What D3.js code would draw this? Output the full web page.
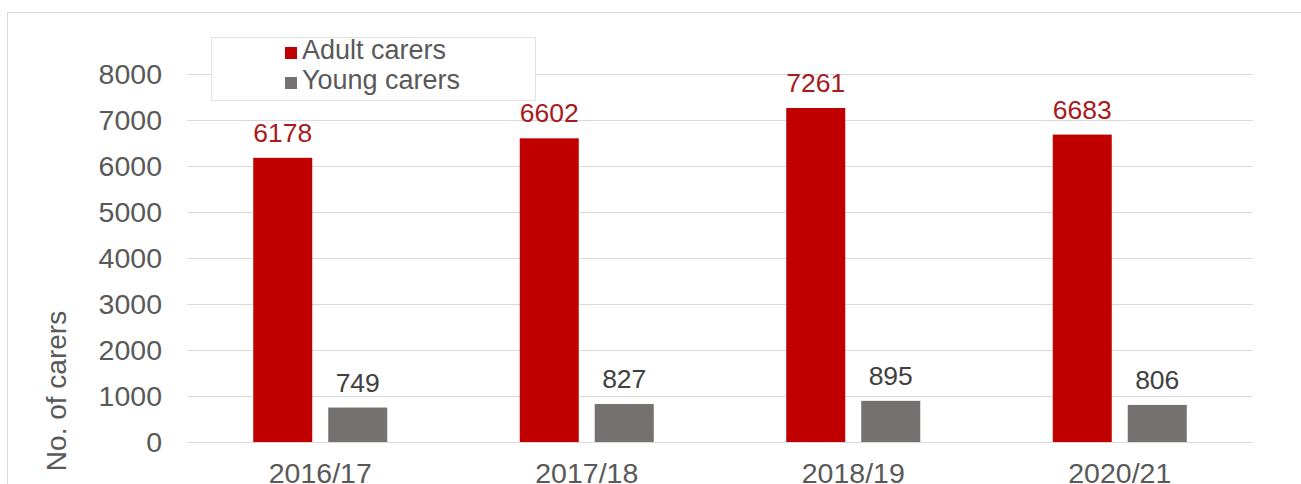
<!DOCTYPE html>
<html>
<head>
<meta charset="utf-8">
<script src="https://cdn.jsdelivr.net/npm/d3@7/dist/d3.min.js"></script>
<style>
  html, body { margin: 0; padding: 0; background: #fff; }
  svg { display: block; font-family: "Liberation Sans", Arial, sans-serif; }
</style>
</head>
<body>
<svg id="chart" width="1301" height="484"></svg>
<script>
// Carers supported per year
const years = ["2016/17", "2017/18", "2018/19", "2020/21"];
const seriesNames = ["Adult carers", "Young carers"];
const adultCarers = [6178, 6602, 7261, 6683];
const youngCarers = [749, 827, 895, 806];
const yTicks = [0, 1000, 2000, 3000, 4000, 5000, 6000, 7000, 8000];

const colors = { "Adult carers": "#c00000", "Young carers": "#767171" };
const labelColors = { "Adult carers": "#a8191c", "Young carers": "#404040" };

const svg = d3.select("#chart");

// outer chart frame
svg.append("rect")
  .attr("x", 7.5).attr("y", 12.5)
  .attr("width", 1320).attr("height", 500)
  .attr("fill", "#fff").attr("stroke", "#d9d9d9").attr("stroke-width", 1);

const plot = { left: 187, right: 1253, top: 74, bottom: 442 };

const y = d3.scaleLinear().domain([0, 8000]).range([plot.bottom, plot.top]);
const x0 = d3.scaleBand().domain(years).range([plot.left, plot.right]).padding(0);
const x1 = d3.scaleBand().domain(seriesNames).range([0, 134]).paddingInner(0.2133).paddingOuter(0);

// gridlines + y tick labels
const yAxis = d3.axisLeft(y).tickValues(yTicks).tickSize(-(plot.right - plot.left)).tickPadding(25)
  .tickFormat(d3.format("d"));
const gy = svg.append("g").attr("transform", `translate(${plot.left},0)`).call(yAxis);
gy.select(".domain").remove();
gy.selectAll(".tick line").attr("stroke", "#d9d9d9").attr("stroke-width", 1);
gy.selectAll(".tick text").attr("fill", "#595959").attr("font-size", 28.5)
  .attr("font-family", "'Liberation Sans', Arial, sans-serif");

// x category labels
const xAxis = d3.axisBottom(x0).tickSize(0).tickPadding(0);
const gx = svg.append("g").attr("transform", `translate(0,${plot.bottom})`).call(xAxis);
gx.select(".domain").remove();
gx.selectAll(".tick text").attr("fill", "#595959").attr("font-size", 28.5)
  .attr("font-family", "'Liberation Sans', Arial, sans-serif")
  .attr("dy", null).attr("y", 41);

// y axis title
svg.append("text")
  .attr("transform", "translate(66,391) rotate(-90)")
  .attr("text-anchor", "middle")
  .attr("fill", "#595959").attr("font-size", 28)
  .text("No. of carers");

// bars
const rows = years.map((yr, i) => ({
  year: yr,
  values: [
    { name: "Adult carers", value: adultCarers[i] },
    { name: "Young carers", value: youngCarers[i] }
  ]
}));

const groups = svg.append("g").selectAll("g").data(rows).join("g")
  .attr("transform", d => `translate(${x0(d.year) + x0.bandwidth() / 2 - 67},0)`);

groups.selectAll("rect").data(d => d.values).join("rect")
  .attr("x", d => x1(d.name))
  .attr("width", x1.bandwidth())
  .attr("y", d => y(d.value))
  .attr("height", d => y(0) - y(d.value))
  .attr("fill", d => colors[d.name]);

groups.selectAll("text").data(d => d.values).join("text")
  .attr("x", d => x1(d.name) + x1.bandwidth() / 2)
  .attr("y", d => y(d.value) - 16)
  .attr("text-anchor", "middle")
  .attr("font-size", 26.5)
  .attr("fill", d => labelColors[d.name])
  .text(d => d.value);

// legend
const legend = svg.append("g");
legend.append("rect")
  .attr("x", 211.5).attr("y", 37.5).attr("width", 324).attr("height", 63)
  .attr("fill", "#fff").attr("stroke", "#e3e3e3").attr("stroke-width", 1);
const li = legend.selectAll("g").data(seriesNames).join("g")
  .attr("transform", (d, i) => `translate(285,${47 + i * 30})`);
li.append("rect").attr("width", 12).attr("height", 12).attr("fill", d => colors[d]);
li.append("text").attr("x", 17).attr("y", 12)
  .attr("font-size", 27).attr("fill", "#595959").text(d => d);
</script>
</body>
</html>
